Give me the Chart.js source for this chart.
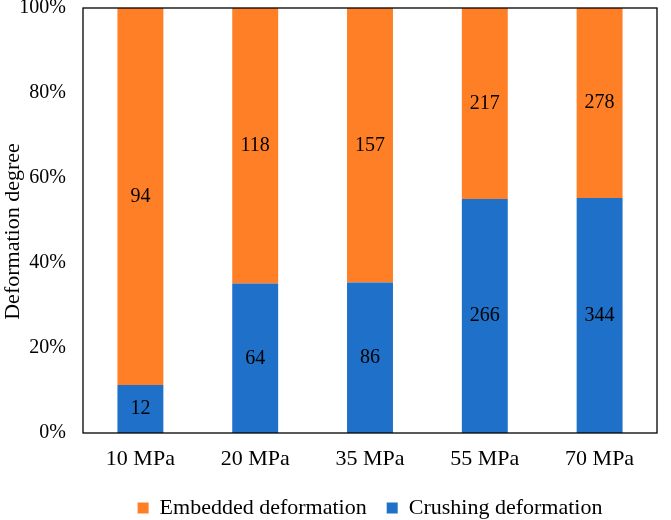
<!DOCTYPE html>
<html>
<head>
<meta charset="utf-8">
<script src="https://cdn.jsdelivr.net/npm/chart.js@4.4.1/dist/chart.umd.min.js"></script>
<style>
  html, body { margin: 0; padding: 0; background: #ffffff; }
  #wrap { width: 671px; height: 520px; }
</style>
</head>
<body>
<div id="wrap"><canvas id="c" width="671" height="520"></canvas></div>
<script>
const categories = ['10 MPa', '20 MPa', '35 MPa', '55 MPa', '70 MPa'];
const crushing = [12, 64, 86, 266, 344];
const embedded = [94, 118, 157, 217, 278];
const yTicks = [0, 20, 40, 60, 80, 100];

const totals = categories.map((_, i) => crushing[i] + embedded[i]);
const crushingPct = crushing.map((v, i) => v / totals[i] * 100);
const embeddedPct = embedded.map((v, i) => v / totals[i] * 100);

const FONT = 'Liberation Serif, Times New Roman, serif';

const labelPlugin = {
  id: 'segLabels',
  afterDatasetsDraw(chart) {
    const ctx = chart.ctx;
    ctx.save();
    ctx.font = '20px ' + FONT;
    ctx.fillStyle = '#000';
    ctx.textAlign = 'center';
    ctx.textBaseline = 'middle';
    chart.data.datasets.forEach((ds, di) => {
      const meta = chart.getDatasetMeta(di);
      meta.data.forEach((el, i) => {
        const p = el.getProps(['x', 'y', 'base'], true);
        ctx.fillText(String(ds.rawValues[i]), p.x, (p.y + p.base) / 2);
      });
    });
    ctx.restore();
  }
};

const framePlugin = {
  id: 'frame',
  afterDraw(chart) {
    const a = chart.chartArea;
    const ctx = chart.ctx;
    ctx.save();
    ctx.strokeStyle = '#000';
    ctx.lineWidth = 1.3;
    ctx.strokeRect(a.left, a.top, a.right - a.left, a.bottom - a.top);
    ctx.restore();
  }
};

new Chart(document.getElementById('c'), {
  type: 'bar',
  data: {
    labels: categories,
    datasets: [
      { label: 'Crushing deformation', data: crushingPct, rawValues: crushing,
        backgroundColor: '#1F70C8', borderWidth: 0 },
      { label: 'Embedded deformation', data: embeddedPct, rawValues: embedded,
        backgroundColor: '#FF7F27', borderWidth: 0 }
    ]
  },
  options: {
    responsive: false,
    animation: false,
    devicePixelRatio: 1,
    categoryPercentage: 1.0,
    barPercentage: 0.4,
    layout: { padding: { top: 8, right: 14, left: 0, bottom: -9 } },
    plugins: {
      tooltip: { enabled: false },
      legend: {
        position: 'bottom',
        fullSize: false,
        reverse: true,
        labels: {
          boxWidth: 11, boxHeight: 11, padding: 20,
          color: '#000',
          font: { family: FONT, size: 22 }
        }
      }
    },
    scales: {
      x: {
        stacked: true,
        grid: { display: false },
        border: { display: false },
        ticks: { color: '#000', font: { family: FONT, size: 22 }, padding: 5 },
        afterFit(s) { s.height = 44; }
      },
      y: {
        stacked: true,
        min: 0, max: 100,
        grid: { display: false },
        border: { display: false },
        afterBuildTicks(s) { s.ticks = yTicks.map(v => ({ value: v })); },
        ticks: {
          color: '#000', font: { family: FONT, size: 20 }, padding: 9,
          callback: v => v + '%'
        },
        title: {
          display: true, text: 'Deformation degree\u00a0\u00a0\u00a0\u00a0', color: '#000',
          font: { family: FONT, size: 22 }, padding: 0
        },
        afterFit(s) { s.width = 83; s.paddingTop = 0; }
      }
    }
  },
  plugins: [labelPlugin, framePlugin]
});
</script>
</body>
</html>
